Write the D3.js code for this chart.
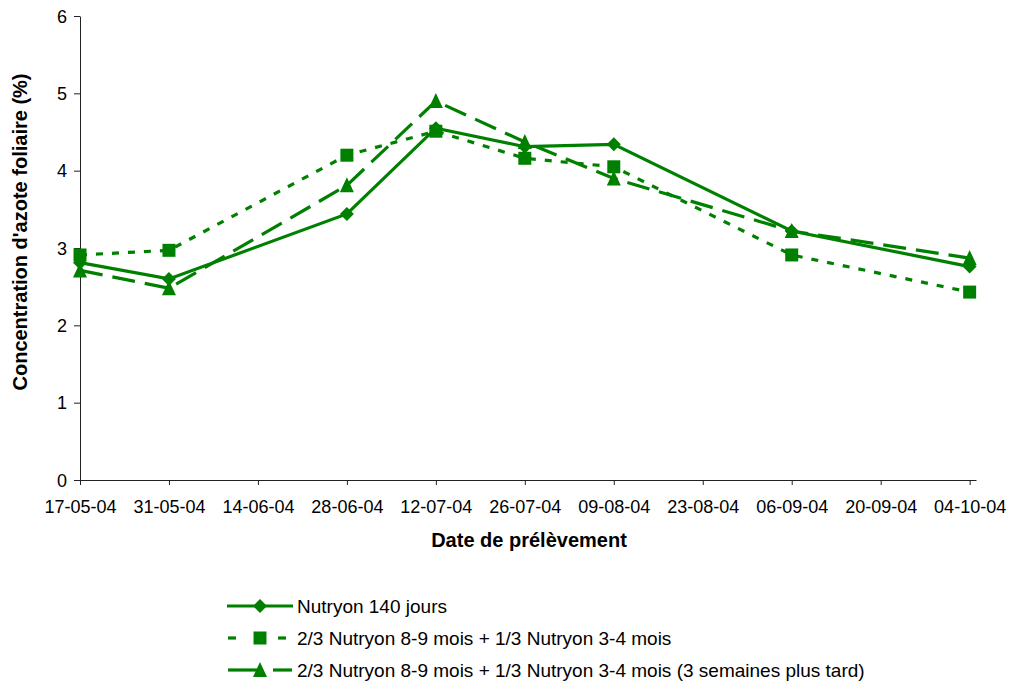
<!DOCTYPE html>
<html><head><meta charset="utf-8">
<script src="https://cdn.jsdelivr.net/npm/d3@7"></script>
<style>
body{margin:0;background:#fff;}
text{font-family:"Liberation Sans",Arial,sans-serif;}
</style></head>
<body><svg id="c" width="1016" height="686"></svg>
<script>
const dates = ["2004-05-17","2004-05-31","2004-06-28","2004-07-12","2004-07-26","2004-08-09","2004-09-06","2004-10-04"];
const nutryon140 = [2.81,2.60,3.44,4.55,4.31,4.34,3.22,2.76];
const mix = [2.91,2.97,4.20,4.51,4.16,4.05,2.91,2.43];
const mixLate = [2.71,2.48,3.81,4.90,4.37,3.90,3.22,2.87];
const seriesNames = ["Nutryon 140 jours","2/3 Nutryon 8-9 mois + 1/3 Nutryon 3-4 mois","2/3 Nutryon 8-9 mois + 1/3 Nutryon 3-4 mois (3 semaines plus tard)"];
const tickDates = ["2004-05-17","2004-05-31","2004-06-14","2004-06-28","2004-07-12","2004-07-26","2004-08-09","2004-08-23","2004-09-06","2004-09-20","2004-10-04"];
const yTicks = [0,1,2,3,4,5,6];
const xTitle = "Date de prélèvement";
const yTitle = "Concentration d'azote foliaire (%)";

const parse = d3.utcParse("%Y-%m-%d");
const fmt = d3.utcFormat("%d-%m-%y");
const svg = d3.select("#c");
const green = "#008000";
const mLeft = 80, mRight = 976, mTop = 16, mBottom = 480;

const x = d3.scaleUtc().domain([parse("2004-05-17"), parse("2004-10-05")]).range([mLeft, mRight]);
const y = d3.scaleLinear().domain([0,6]).range([mBottom, mTop]);

// custom marker shapes (size = full width in px)
const diamond = {draw(ctx, s){const r=s/2; ctx.moveTo(0,-r); ctx.lineTo(r,0); ctx.lineTo(0,r); ctx.lineTo(-r,0); ctx.closePath();}};
const square = {draw(ctx, s){const r=s/2; ctx.rect(-r,-r,s,s);}};
const triangle = {draw(ctx, s){const r=s/2; ctx.moveTo(0,-r-1); ctx.lineTo(r,r); ctx.lineTo(-r,r); ctx.closePath();}};

// axes
const xAxis = svg.append("g").attr("transform",`translate(0,${mBottom})`)
  .call(d3.axisBottom(x).tickValues(tickDates.map(parse)).tickFormat(fmt).tickSize(5).tickSizeOuter(0));
const yAxis = svg.append("g").attr("transform",`translate(${mLeft},0)`)
  .call(d3.axisLeft(y).tickValues(yTicks).tickFormat(d3.format("d")).tickSize(6).tickSizeOuter(0));
[xAxis,yAxis].forEach(g=>{
  g.select(".domain").attr("stroke","#222").attr("stroke-width",1);
  g.selectAll(".tick line").attr("stroke","#222");
  g.selectAll(".tick text").attr("font-size",18).attr("fill","#000").attr("font-family","Liberation Sans, Arial, sans-serif");
});
xAxis.selectAll(".tick text").attr("y",33).attr("dy",0);
yAxis.selectAll(".tick text").attr("x",-13).attr("dy","0.35em");

svg.append("text").attr("x",529).attr("y",547).attr("text-anchor","middle")
  .attr("font-size",20).attr("font-weight","bold").text(xTitle);
svg.append("text").attr("transform","translate(27,232) rotate(-90)").attr("text-anchor","middle")
  .attr("font-size",20).attr("font-weight","bold").text(yTitle);

const series = [
  {name:seriesNames[0], vals:nutryon140, dash:null, sym:diamond, size:14},
  {name:seriesNames[1], vals:mix, dash:"7,9", sym:square, size:13},
  {name:seriesNames[2], vals:mixLate, dash:"23,10", sym:triangle, size:14}
];
const line = d3.line().x(d=>x(d.date)).y(d=>y(d.v));
series.forEach(s=>{
  const pts = dates.map((d,i)=>({date:parse(d), v:s.vals[i]}));
  svg.append("path").datum(pts).attr("d",line).attr("fill","none")
    .attr("stroke",green).attr("stroke-width",3.2)
    .attr("stroke-dasharray",s.dash);
  svg.append("g").selectAll("path").data(pts).join("path")
    .attr("transform",d=>`translate(${x(d.date)},${y(d.v)})`)
    .attr("d",d3.symbol().type(s.sym).size(s.size)).attr("fill",green);
});

// legend
const legY = [606,638,670];
series.forEach((s,i)=>{
  const g = svg.append("g").attr("transform",`translate(0,${legY[i]})`);
  if(i===0){
    g.append("line").attr("x1",227).attr("x2",293).attr("stroke",green).attr("stroke-width",3.2);
  } else if(i===1){
    g.append("line").attr("x1",228).attr("x2",236).attr("stroke",green).attr("stroke-width",3.2);
    g.append("line").attr("x1",278).attr("x2",286).attr("stroke",green).attr("stroke-width",3.2);
  } else {
    g.append("line").attr("x1",228).attr("x2",258).attr("stroke",green).attr("stroke-width",3.2);
    g.append("line").attr("x1",273).attr("x2",292).attr("stroke",green).attr("stroke-width",3.2);
  }
  g.append("path").attr("transform","translate(260,0)").attr("d",d3.symbol().type(s.sym).size(s.size)).attr("fill",green);
  g.append("text").attr("x",297).attr("y",0).attr("dy","0.35em").attr("font-size",19).text(s.name);
});
</script></body></html>
